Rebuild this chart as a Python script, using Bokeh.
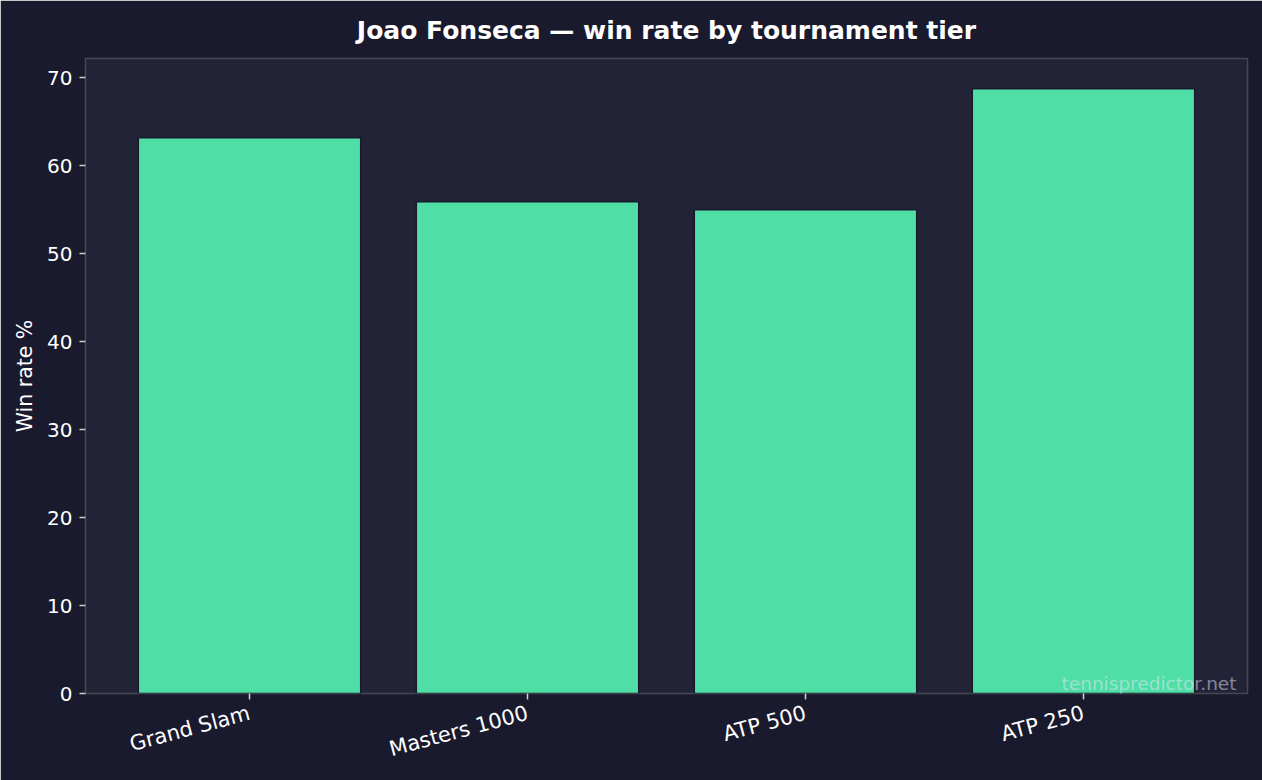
import math
from bokeh.plotting import figure
from bokeh.models import Range1d, FixedTicker, Label, ColumnDataSource
from bokeh.embed import file_html
from bokeh.resources import INLINE

categories = ["Grand Slam", "Masters 1000", "ATP 500", "ATP 250"]
win_rate = [63.2, 55.9, 55.0, 68.75]
y_ticks = [0, 10, 20, 30, 40, 50, 60, 70]
title_text = "Joao Fonseca \u2014 win rate by tournament tier"

FONT = "DejaVu Sans"
BG = "#1a1a2e"
PLOT_BG = "#232338"
BAR = "#4edea6"

xs = list(range(len(categories)))
src = ColumnDataSource(dict(x=xs, top=win_rate, cat=categories))

X0, X1 = -0.59, 3.59
Y0, Y1 = 0, 72.2

p = figure(width=1262, height=780, output_backend="svg", toolbar_location=None,
           x_range=Range1d(X0, X1), y_range=Range1d(Y0, Y1), title=title_text)

p.background_fill_color = PLOT_BG
p.border_fill_color = BG
p.outline_line_color = "#47474f"
p.outline_line_width = 1.5
p.min_border_left = 85
p.min_border_right = 15
p.min_border_bottom = 87
p.min_border_top = 58

p.title.text_color = "white"
p.title.text_font = FONT
p.title.text_font_size = "25px"
p.title.text_font_style = "bold"
p.title.align = "center"
p.title.standoff = 27

p.vbar(x="x", top="top", width=0.8, source=src, fill_color=BAR,
       line_color="#1a1a2e", line_width=1.5)

p.xgrid.visible = False
p.ygrid.visible = False

for ax in (p.xaxis[0], p.yaxis[0]):
    ax.axis_line_color = None
    ax.major_tick_line_color = "#d0d0d0"
    ax.major_tick_line_width = 1.5
    ax.major_tick_out = 6
    ax.major_tick_in = 0
    ax.minor_tick_line_color = None
    ax.major_label_text_color = "white"
    ax.major_label_text_font = FONT
    ax.major_label_text_font_size = "20px"

p.xaxis.ticker = FixedTicker(ticks=xs)
p.xaxis.major_label_overrides = {i: c for i, c in zip(xs, categories)}
p.xaxis.major_label_orientation = math.pi / 12
p.xaxis.major_label_standoff = 13
p.xaxis.major_label_text_font_size = "21px"

p.yaxis.ticker = FixedTicker(ticks=y_ticks)
p.yaxis.major_label_standoff = 7
p.yaxis.axis_label = "Win rate %"
p.yaxis.axis_label_text_color = "white"
p.yaxis.axis_label_text_font = FONT
p.yaxis.axis_label_text_font_size = "20.5px"
p.yaxis.axis_label_text_font_style = "normal"
p.yaxis.axis_label_standoff = 7

wm = Label(x=X1, y=Y0, text="tennispredictor.net", text_align="right",
           text_baseline="alphabetic", x_offset=-11, y_offset=10,
           text_color="#e8e8f8", text_alpha=0.5, text_font=FONT,
           text_font_size="18.5px")
p.add_layout(wm)

open("out.html", "w").write(file_html(p, INLINE))
